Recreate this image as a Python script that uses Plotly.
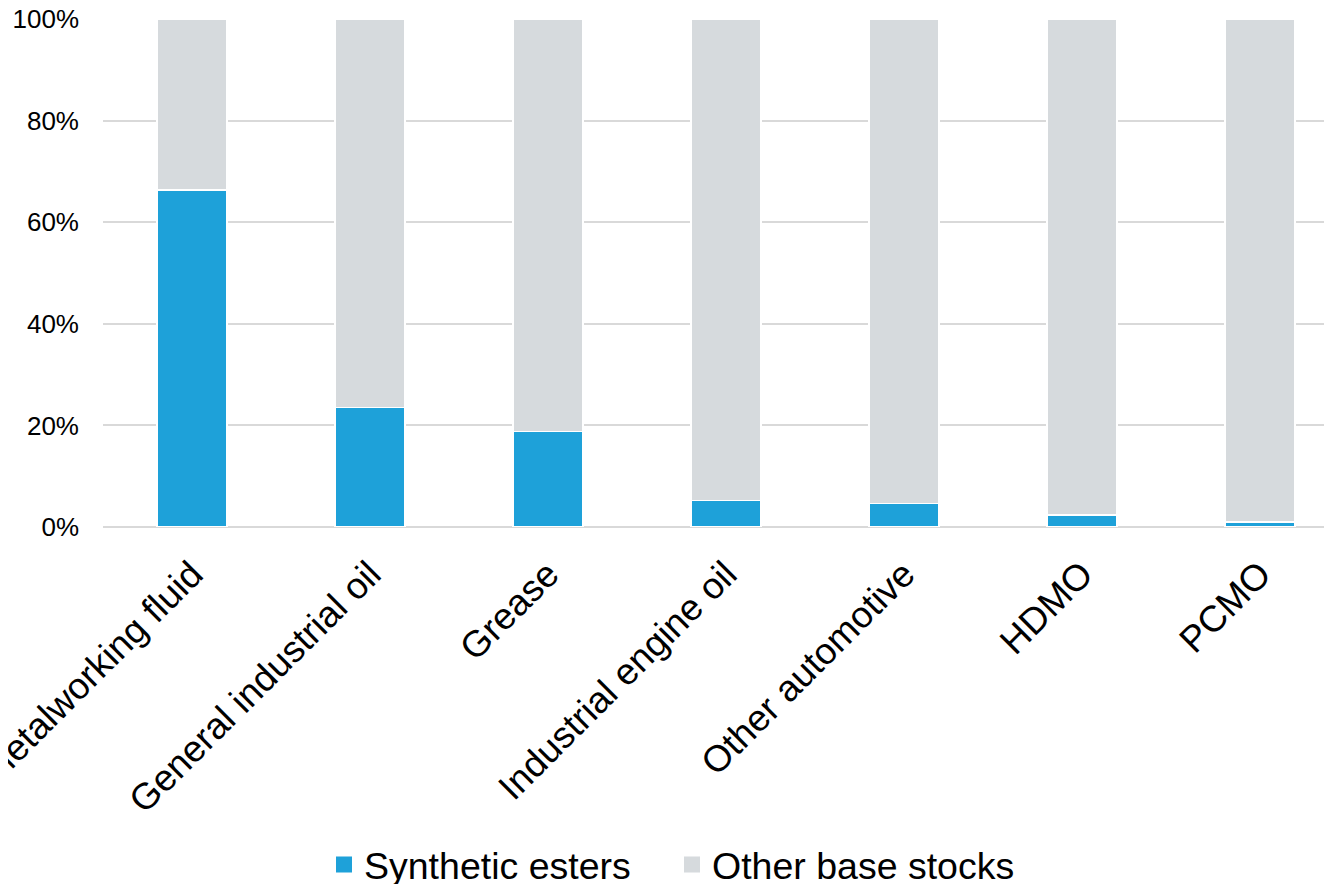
import plotly.graph_objects as go

categories = ["Metalworking fluid", "General industrial oil", "Grease",
              "Industrial engine oil", "Other automotive", "HDMO", "PCMO"]
synthetic_esters = [66.3, 23.5, 18.8, 5.2, 4.6, 2.4, 1.0]
other_base_stocks = [round(100 - v, 1) for v in synthetic_esters]
y_ticks = [0, 20, 40, 60, 80, 100]
y_tick_labels = [f"{v}%" for v in y_ticks]

BLUE = "#1EA1D9"
GRAY = "#D6DADD"
FONT = "Liberation Sans, Arial, sans-serif"

fig = go.Figure()
fig.add_trace(go.Bar(x=categories, y=synthetic_esters, name="Synthetic esters",
                     marker=dict(color=BLUE, line=dict(color="white", width=1.5)),
                     showlegend=False))
fig.add_trace(go.Bar(x=categories, y=other_base_stocks, name="Other base stocks",
                     marker=dict(color=GRAY, line=dict(color="white", width=1.5)),
                     showlegend=False))
# legend proxies with larger square symbols
fig.add_trace(go.Scatter(x=[None], y=[None], mode="markers", name="Synthetic esters",
                         marker=dict(symbol="square", size=18, color=BLUE)))
fig.add_trace(go.Scatter(x=[None], y=[None], mode="markers", name="Other base stocks",
                         marker=dict(symbol="square", size=18, color=GRAY)))

fig.update_layout(
    barmode="stack",
    bargap=0.607,
    width=1332, height=884,
    margin=dict(l=95, r=0, t=11, b=365, autoexpand=False),
    plot_bgcolor="white", paper_bgcolor="white",
    font=dict(family=FONT, color="black"),
    legend=dict(orientation="h", xref="container", yref="container",
                x=316 / 1332, xanchor="left", y=0.031, yanchor="middle",
                traceorder="normal", entrywidth=303, entrywidthmode="pixels",
                font=dict(size=37.5, family=FONT), itemsizing="trace"),
    xaxis=dict(range=[-0.5, 6.449], tickangle=-45, tickfont=dict(size=37),
               showgrid=False, showline=False, ticks="", automargin=False,
               ticklabelstandoff=17),
    yaxis=dict(range=[0, 100], tickvals=y_ticks, ticktext=y_tick_labels,
               tickfont=dict(size=26), showgrid=True, gridcolor="#D9D9D9",
               gridwidth=2, zeroline=True, zerolinecolor="#D9D9D9", zerolinewidth=2,
               ticks="", ticklabelstandoff=23, automargin=False,
               ticklabeloverflow="allow"),
)
fig.write_html("out.html")
